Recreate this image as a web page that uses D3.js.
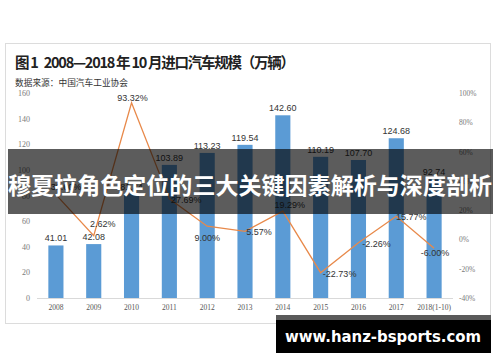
<!DOCTYPE html>
<html>
<head>
<meta charset="utf-8">
<script src="https://cdn.jsdelivr.net/npm/d3@7"></script>
<style>
  body { margin: 0; background: #fff; }
  svg { display: block; }
  .title { white-space: pre; }
</style>
</head>
<body>
<svg id="chart"></svg>
<script>
const width = 500
const height = 362

// data
const years = ["2008", "2009", "2010", "2011", "2012", "2013", "2014", "2015", "2016", "2017", "2018(1-10)"]
const imports = [41.01, 42.08, 81.34, 103.89, 113.23, 119.54, 142.6, 110.19, 107.7, 124.68, 92.74]
const growth = [30.6, 2.62, 93.32, 27.69, 9.0, 5.57, 19.29, -22.73, -2.26, 15.77, -6.0]
const leftTicks = [0, 20, 40, 60, 80, 100, 120, 140, 160]
const rightTicks = [-40, -20, 0, 20, 40, 60, 80, 100]

// where each growth label sits relative to its point
const growthLabelOffset = [[10, -8], [9, -12], [1, -5], [17, 1], [0, 12], [14, 1], [7, -6], [19, 1], [18, 1], [15, 1], [1, 5]]

const svg = d3.select("#chart").attr("width", width).attr("height", height)

// outer frame
svg.append("rect")
  .attr("x", 5.5).attr("y", 43.5)
  .attr("width", 485).attr("height", 280)
  .attr("fill", "#fff")
  .attr("stroke", "#dcdcdc")

svg.append("text")
  .attr("class", "title")
  .attr("x", 15).attr("y", 68)
  .attr("font-family", "'Noto Sans CJK SC', sans-serif")
  .attr("font-weight", "bold")
  .attr("font-size", 14.5)
  .attr("fill", "#222")
  .attr("textLength", 280)
  .attr("lengthAdjust", "spacing")
  .text("图 1   2008—2018 年 10 月进口汽车规模（万辆）")

svg.append("text")
  .attr("x", 15).attr("y", 85.5)
  .attr("font-family", "'Noto Sans CJK SC', sans-serif")
  .attr("font-size", 8.7)
  .attr("fill", "#333")
  .text("数据来源：中国汽车工业协会")

const x = d3.scaleBand()
  .domain(years)
  .range([37, 453])
  .paddingInner(0.6)
  .paddingOuter(0.3)

const yLeft = d3.scaleLinear().domain([0, 160]).range([298, 93])
const yRight = d3.scaleLinear().domain([-40, 100]).range([298, 93])

const tickFont = "'Liberation Serif', serif"

svg.append("g")
  .selectAll("text")
  .data(leftTicks)
  .join("text")
  .attr("x", 30)
  .attr("y", (d) => yLeft(d) + 3)
  .attr("text-anchor", "end")
  .attr("font-family", tickFont)
  .attr("font-size", 8)
  .attr("fill", "#7a7a7a")
  .text((d) => d)

svg.append("g")
  .selectAll("text")
  .data(rightTicks)
  .join("text")
  .attr("x", 459)
  .attr("y", (d) => yRight(d) + 3)
  .attr("font-family", tickFont)
  .attr("font-size", 7.5)
  .attr("fill", "#7a7a7a")
  .text((d) => d + "%")

// bars
svg.append("g")
  .selectAll("rect")
  .data(imports)
  .join("rect")
  .attr("x", (d, i) => x(years[i]))
  .attr("y", (d) => yLeft(d))
  .attr("width", x.bandwidth())
  .attr("height", (d) => yLeft(0) - yLeft(d))
  .attr("fill", "#5b9bd5")

// category axis
const xAxis = svg.append("g")
  .attr("transform", `translate(0,${yLeft(0)})`)
  .call(d3.axisBottom(x).tickSize(0).tickPadding(7))
xAxis.select(".domain").attr("stroke", "#d9d9d9").attr("d", "M37,0.5H453")
xAxis.selectAll("text")
  .attr("font-family", tickFont)
  .attr("font-size", 7.5)
  .attr("fill", "#555")

svg.append("g")
  .selectAll("text")
  .data(imports)
  .join("text")
  .attr("x", (d, i) => x(years[i]) + x.bandwidth() / 2)
  .attr("y", (d) => yLeft(d) - 4)
  .attr("text-anchor", "middle")
  .attr("font-family", "'Liberation Sans', Arial, sans-serif")
  .attr("font-size", 9)
  .attr("fill", "#333")
  .text((d) => d.toFixed(2))

// growth line
const line = d3.line()
  .x((d, i) => x(years[i]) + x.bandwidth() / 2)
  .y((d) => yRight(d))

svg.append("path")
  .datum(growth)
  .attr("d", line)
  .attr("fill", "none")
  .attr("stroke", "#e8894a")
  .attr("stroke-width", 1.3)

svg.append("g")
  .selectAll("text")
  .data(growth)
  .join("text")
  .attr("x", (d, i) => x(years[i]) + x.bandwidth() / 2 + growthLabelOffset[i][0])
  .attr("y", (d, i) => yRight(d) + growthLabelOffset[i][1] + 3)
  .attr("text-anchor", "middle")
  .attr("font-family", "'Liberation Sans', Arial, sans-serif")
  .attr("font-size", 9)
  .attr("fill", "#333")
  .text((d) => d.toFixed(2) + "%")

// dark banner across the chart
svg.append("rect")
  .attr("x", 8).attr("y", 149)
  .attr("width", 485).attr("height", 65)
  .attr("fill", "#000")
  .attr("fill-opacity", 0.64)

svg.append("text")
  .attr("x", 250).attr("y", 194)
  .attr("text-anchor", "middle")
  .attr("font-family", "'Noto Sans CJK SC', sans-serif")
  .attr("font-weight", "bold")
  .attr("font-size", 23)
  .attr("fill", "#fff")
  .attr("textLength", 484)
  .attr("lengthAdjust", "spacing")
  .text("穆夏拉角色定位的三大关键因素解析与深度剖析")

// watermark
svg.append("rect")
  .attr("x", 276).attr("y", 315)
  .attr("width", 215).attr("height", 6)
  .attr("fill", "#5a5a5a")
svg.append("rect")
  .attr("x", 276).attr("y", 320)
  .attr("width", 215).attr("height", 33)
  .attr("fill", "#000")
svg.append("text")
  .attr("x", 383).attr("y", 342)
  .attr("text-anchor", "middle")
  .attr("font-family", "'DejaVu Sans', sans-serif")
  .attr("font-weight", "bold")
  .attr("font-size", 16)
  .attr("fill", "#fff")
  .attr("textLength", 196)
  .attr("lengthAdjust", "spacingAndGlyphs")
  .text("www.hanz-bsports.com")
</script>
</body>
</html>
